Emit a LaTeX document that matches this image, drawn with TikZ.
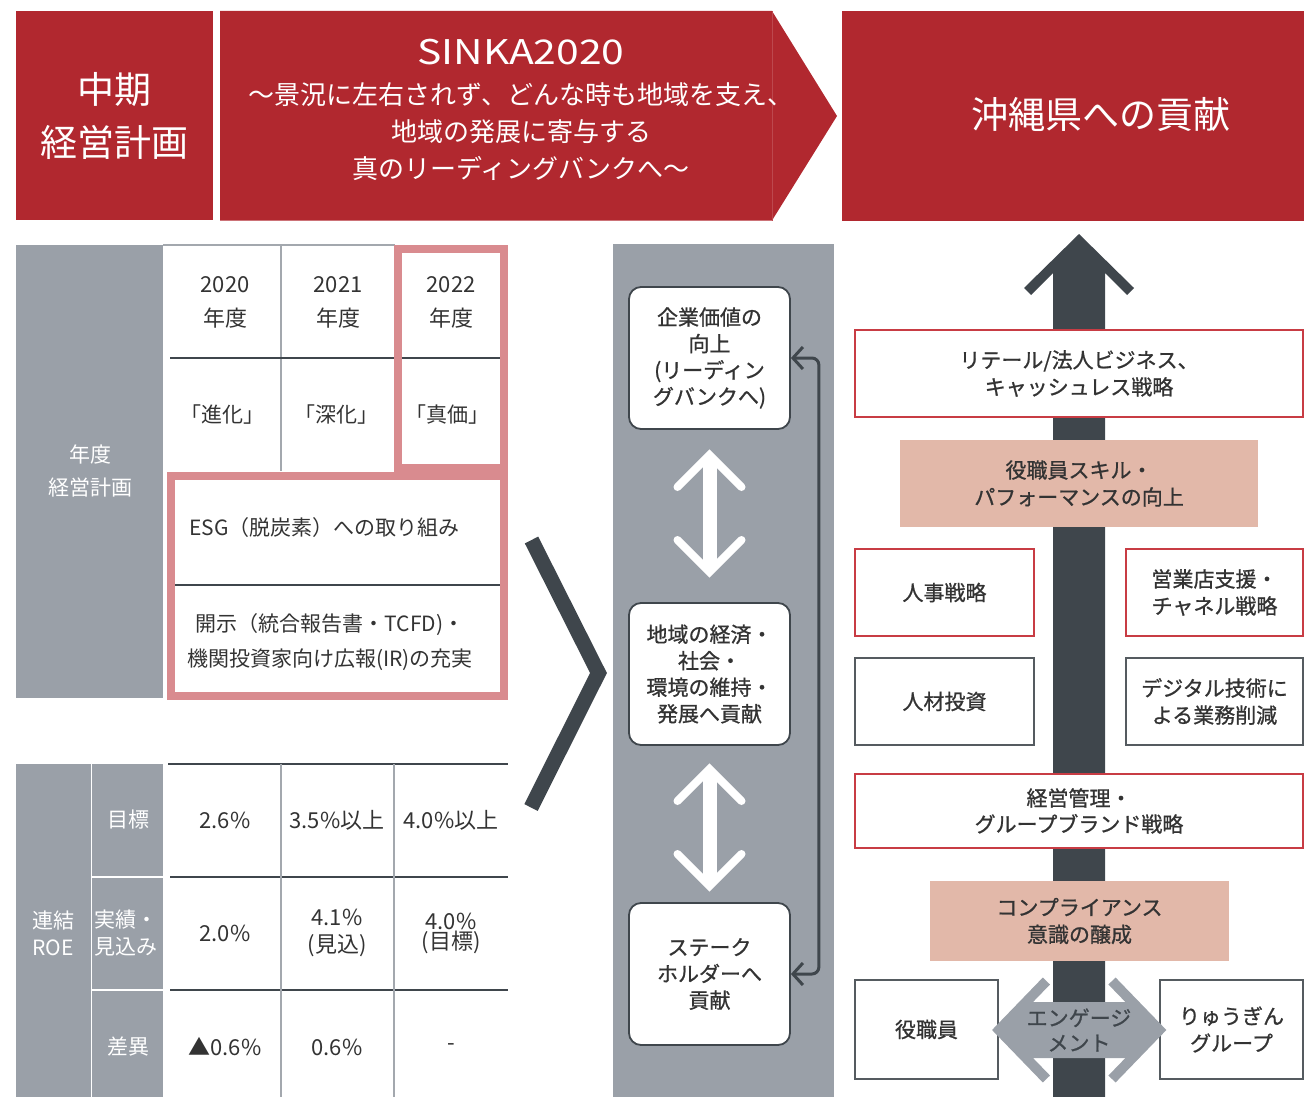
\documentclass[tikz,border=0pt]{standalone}
\usepackage{fontspec}
\setmainfont{Noto Sans CJK JP}
\newfontfamily\medf{Noto Sans CJK JP}[FakeBold=0.9]
\newfontfamily\latf{Noto Sans CJK JP}[FakeStretch=1.2]
\usetikzlibrary{arrows.meta}
\definecolor{redc}{HTML}{B1282F}
\definecolor{redb}{HTML}{C83C44}
\definecolor{grayc}{HTML}{9AA0A8}
\definecolor{darkc}{HTML}{3F464C}
\definecolor{pinkc}{HTML}{D98B8F}
\definecolor{salmonc}{HTML}{E2B8A9}
\definecolor{textc}{HTML}{333333}
\definecolor{vlinec}{HTML}{A3A8AE}
\definecolor{grayb}{HTML}{555B60}
\newcommand{\myfs}[2]{\fontsize{#1}{#2}\selectfont}
\begin{document}
\begin{tikzpicture}[x=1pt,y=-1pt,
  hdrbox/.style={fill=redc, inner sep=0pt, text=white, align=center},
  wtext/.style={text=white, align=center, inner sep=0pt},
  ttext/.style={text=textc, align=center, inner sep=0pt, font=\myfs{22}{34}},
  hline/.style={draw=darkc, line width=1.3pt},
  vline/.style={draw=vlinec, line width=1.3pt},
  rbox/.style={draw=darkc, line width=1.8pt, fill=white, rounded corners=12pt, minimum width=161pt, minimum height=142pt, align=center, inner sep=0pt, text=textc, font=\medf\myfs{21}{26.5}},
  warrow/.style={draw=white, line width=8pt, line cap=round, line join=miter},
  conn/.style={draw=darkc, line width=3pt, rounded corners=7pt, {Straight Barb[length=10pt,width=22pt]}-{Straight Barb[length=10pt,width=22pt]}},
  redbx/.style={draw=redb, line width=1.8pt, fill=white, align=center, inner sep=0pt, text=textc, font=\medf\myfs{21}{27}},
  graybx/.style={draw=grayb, line width=1.8pt, fill=white, align=center, inner sep=0pt, text=textc, font=\medf\myfs{21}{27}},
  salbx/.style={fill=salmonc, align=center, inner sep=0pt, text=textc, font=\medf\myfs{21}{27}}
]
\useasboundingbox (0,0) rectangle (1304,1097);

% ---------- header ----------
\node[hdrbox, minimum width=197pt, minimum height=209pt, font=\myfs{37}{53}] (hdr1) at (114.5,115.5) {中期\\経営計画};
\fill[redc] (220,11) -- (772,11) -- (837,116) -- (772,220.5) -- (220,220.5) -- cycle;
\draw[color=redc!85!white, line width=0.8pt] (772,11) -- (772,220.5);
\node[wtext, font=\latf\myfs{34}{40}] (sinka) at (521,52) {SINKA2020};
\node[wtext, font=\myfs{26}{37}] (slogan) at (521,132) {～景況に左右されず、どんな時も地域を支え、\\地域の発展に寄与する\\真のリーディングバンクへ～};
\node[hdrbox, minimum width=462pt, minimum height=209.5pt] (hdr3) at (1073,115.75) {};
\node[wtext, font=\myfs{37}{44}] (hdr3t) at (1101,114) {沖縄県への貢献};

% ---------- upper table ----------
\fill[grayc] (16,245) rectangle (163,698);
\node[wtext, font=\myfs{21}{33}] (lbl1) at (90,471) {年度\\経営計画};
\draw[vline] (163,245) -- (395,245);
\draw[vline] (281,245) -- (281,471);
\draw[hline] (170,358) -- (508,358);
\draw[hline] (170,585) -- (508,585);
\draw[draw=pinkc, line width=7.5pt] (398,249) rectangle (504,468);
\draw[draw=pinkc, line width=8pt] (171,475.5) rectangle (504,696);
\node[ttext] (y20) at (225,302) {2020\\年度};
\node[ttext] (y21) at (338,302) {2021\\年度};
\node[ttext] (y22) at (451,302) {2022\\年度};
\node[ttext, font=\myfs{21}{30}] (p20) at (222,415) {「進化」};
\node[ttext, font=\myfs{21}{30}] (p21) at (336,415) {「深化」};
\node[ttext, font=\myfs{21}{30}] (p22) at (447,415) {「真価」};
\node[ttext, font=\myfs{21}{30}, anchor=west] (esg) at (189,528) {ESG（脱炭素）への取り組み};
\node[ttext, font=\myfs{21}{35}] (ir) at (330,642) {開示（統合報告書・TCFD)・\\機関投資家向け広報(IR)の充実};

% ---------- lower table ----------
\fill[grayc] (16,764) rectangle (163,1097);
\draw[white, line width=1.3pt] (91.5,764) -- (91.5,1097);
\draw[white, line width=1.3pt] (92,877) -- (163,877);
\draw[white, line width=1.3pt] (92,990) -- (163,990);
\draw[hline] (168,764) -- (508,764);
\draw[hline] (170,877) -- (508,877);
\draw[hline] (170,990) -- (508,990);
\draw[vline] (281,764) -- (281,1097);
\draw[vline] (394,764) -- (394,1097);
\node[wtext, font=\myfs{21}{27}] (roe) at (53,933) {連結\\ROE};
\node[wtext, font=\myfs{21}{27}] (tgt) at (128,820) {目標};
\node[wtext, font=\myfs{21}{27}] (act) at (126,933) {実績・\\見込み};
\node[wtext, font=\myfs{21}{27}] (dif) at (128,1047) {差異};
\node[ttext, font=\myfs{22}{27}] (v1) at (225,820) {2.6\%};
\node[ttext, font=\myfs{22}{27}] (v2) at (337,820) {3.5\%以上};
\node[ttext, font=\myfs{22}{27}] (v3) at (451,820) {4.0\%以上};
\node[ttext, font=\myfs{22}{27}] (v4) at (225,933) {2.0\%};
\node[ttext, font=\myfs{22}{27}] (v5) at (337,933) {4.1\%\\(見込)};
\node[ttext, font=\myfs{22}{20}] (v6) at (451,933) {4.0\%\\(目標)};
\node[ttext, font=\myfs{22}{27}] (v7) at (225,1047) {▲0.6\%};
\node[ttext, font=\myfs{22}{27}] (v8) at (337,1047) {0.6\%};
\node[ttext, font=\myfs{22}{27}] (v9) at (451,1047) {-};

% ---------- middle ----------
\draw[darkc, line width=15pt, line join=miter] (531.5,540) -- (598.5,673) -- (531,807.5);
\fill[grayc] (613,244) rectangle (834,1097);
\node[rbox] (A) at (709.5,358) {企業価値の\\向上\\(リーディン\\グバンクへ)};
\node[rbox] (B) at (709.5,674) {地域の経済・\\社会・\\環境の維持・\\発展へ貢献};
\node[rbox] (C) at (709.5,974) {ステーク\\ホルダーへ\\貢献};
\draw[conn] (A.east) -- ++(28,0) |- (C.east);
\fill[white] (702.5,460) rectangle (716.5,568);
\draw[warrow] (677.5,487) -- (709.5,455) -- (741.5,487);
\draw[warrow] (677.5,540) -- (709.5,572) -- (741.5,540);
\fill[white] (702.5,775) rectangle (716.5,880);
\draw[warrow] (677.5,801) -- (709.5,769) -- (741.5,801);
\draw[warrow] (677.5,854) -- (709.5,886) -- (741.5,854);

% ---------- right ----------
\fill[darkc] (1079,234) -- (1134,288) -- (1127,295) -- (1105,273) -- (1105,1097) -- (1053,1097) -- (1053,273) -- (1031,295) -- (1024,288) -- cycle;
\node[redbx, minimum width=448pt, minimum height=87pt] (r1) at (1079,373.5) {リテール/法人ビジネス、\\キャッシュレス戦略};
\node[salbx, minimum width=358pt, minimum height=87pt] (s1) at (1079,483.5) {役職員スキル・\\パフォーマンスの向上};
\node[redbx, minimum width=179pt, minimum height=87pt] (r2) at (944.5,592.5) {人事戦略};
\node[redbx, minimum width=177pt, minimum height=87pt] (r3) at (1214.5,592.5) {営業店支援・\\チャネル戦略};
\node[graybx, minimum width=179pt, minimum height=87pt] (g1) at (944.5,701.5) {人材投資};
\node[graybx, minimum width=177pt, minimum height=87pt] (g2) at (1214.5,701.5) {デジタル技術に\\よる業務削減};
\node[redbx, minimum width=448pt, minimum height=74pt, font=\medf\myfs{21}{26}] (r4) at (1079,811) {経営管理・\\グループブランド戦略};
\node[salbx, minimum width=299pt, minimum height=80pt] (s2) at (1079.5,921) {コンプライアンス\\意識の醸成};
\node[graybx, minimum width=143pt, minimum height=99pt] (g3) at (926.5,1029.5) {役職員};
\node[graybx, minimum width=143pt, minimum height=99pt] (g4) at (1231.5,1029.5) {りゅうぎん\\グループ};
\draw[grayc, line width=10pt, line join=miter] (1046.4,981) -- (999,1030) -- (1046.4,1079);
\draw[grayc, line width=10pt, line join=miter] (1112,981) -- (1159.4,1030) -- (1112,1079);
\fill[grayc] (999,1030) -- (1027,1002) -- (1131,1002) -- (1159,1030) -- (1131,1058) -- (1027,1058) -- cycle;
\node[text=darkc, align=center, inner sep=0pt, font=\medf\myfs{21}{25}] (eng) at (1079,1030) {エンゲージ\\メント};
\end{tikzpicture}
\end{document}
